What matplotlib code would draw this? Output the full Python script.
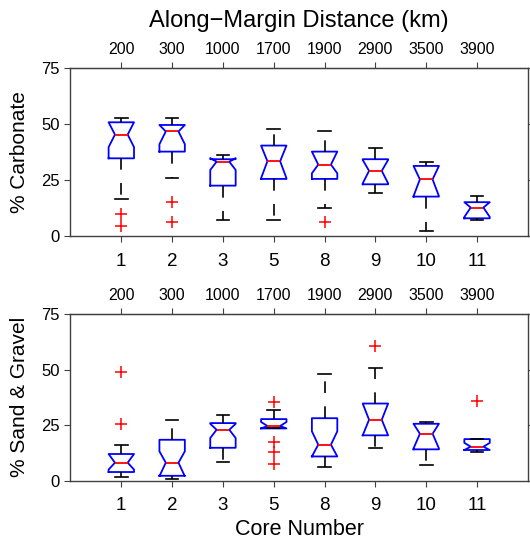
import numpy as np
import matplotlib.pyplot as plt

plt.rcParams['font.family'] = ['Liberation Sans', 'DejaVu Sans']

cores = ['1', '2', '3', '5', '8', '9', '10', '11']
distances = ['200', '300', '1000', '1700', '1900', '2900', '3500', '3900']

# % carbonate
carb_whislo = [16.4, 25.8, 7.3, 7.3, 12.5, 19.2, 2.4, 7.0]
carb_q1 = [34.7, 37.7, 22.5, 25.5, 25.5, 23.1, 17.6, 7.9]
carb_cilo = [39.7, 41.0, 29.5, 25.8, 28.0, 23.5, 17.8, 8.5]
carb_med = [45.3, 46.7, 33.2, 33.4, 31.9, 29.1, 25.3, 12.7]
carb_cihi = [50.8, 49.6, 34.8, 40.4, 37.7, 34.0, 31.3, 15.1]
carb_q3 = [50.8, 49.6, 34.3, 40.4, 37.7, 34.3, 31.3, 15.1]
carb_whishi = [52.6, 52.5, 36.4, 47.9, 47.1, 39.2, 33.2, 18.0]
carb_fliers = [[10.0, 4.6], [15.1, 6.1], [], [], [6.1], [], [], []]

# % sand & gravel
sand_whislo = [1.6, 0.7, 8.4, 23.5, 6.1, 14.8, 6.9, 12.7]
sand_q1 = [3.9, 2.2, 14.8, 23.5, 10.9, 20.4, 14.1, 13.8]
sand_cilo = [5.0, 2.0, 19.2, 23.5, 10.9, 20.4, 14.5, 13.8]
sand_med = [8.1, 8.1, 22.9, 24.6, 16.2, 27.4, 21.1, 15.3]
sand_cihi = [12.0, 13.2, 25.6, 26.4, 22.2, 34.7, 25.6, 17.0]
sand_q3 = [12.0, 18.4, 25.9, 27.7, 28.1, 34.7, 25.6, 18.7]
sand_whishi = [15.9, 27.5, 29.5, 31.7, 48.1, 50.9, 26.2, 18.7]
sand_fliers = [[48.8, 25.6], [], [], [35.3, 17.4, 12.9, 7.3], [], [60.6], [], [35.8]]


def make_stats(whislo, q1, cilo, med, cihi, q3, whishi, fliers):
    stats = []
    for i in range(len(med)):
        stats.append(dict(whislo=whislo[i], q1=q1[i], cilo=cilo[i], med=med[i],
                          cihi=cihi[i], q3=q3[i], whishi=whishi[i],
                          fliers=np.array(fliers[i])))
    return stats


def draw_panel(ax, stats, ylabel):
    pos = np.arange(1, len(stats) + 1)
    ax.bxp(stats, positions=pos, widths=0.5, capwidths=0.25, shownotches=True,
           boxprops=dict(color='blue', linewidth=1.3),
           medianprops=dict(color='red', linewidth=1.3),
           whiskerprops=dict(color='black', linewidth=1.2, linestyle=(0, (7, 8))),
           capprops=dict(color='black', linewidth=1.2),
           flierprops=dict(marker='+', markeredgecolor='red', markersize=8,
                           markeredgewidth=1.1, linestyle='none'))
    ax.set_xlim(0, 9)
    ax.set_ylim(0, 75)
    ax.set_yticks([0, 25, 50, 75])
    ax.set_xticks(pos)
    ax.set_xticklabels(cores, fontsize=13.5)
    ax.set_ylabel(ylabel, fontsize=15, labelpad=9)
    ax.tick_params(axis='y', labelsize=12, direction='out', length=4, right=True,
                   color='0.25')
    ax.tick_params(axis='x', direction='out', length=4, color='0.25', pad=8)
    for s in ax.spines.values():
        s.set_color('0.25')
        s.set_linewidth(1.0)
    top = ax.secondary_xaxis('top')
    top.set_xticks(pos, labels=distances)
    top.tick_params(direction='out', length=4, labelsize=11.5, color='0.25', pad=4)
    top.spines['top'].set_color('0.25')
    return top


fig = plt.figure(figsize=(5.3, 5.45), dpi=100)
ax1 = fig.add_axes([0.133, 0.567, 0.863, 0.308])
ax2 = fig.add_axes([0.133, 0.118, 0.863, 0.306])

top1 = draw_panel(ax1, make_stats(carb_whislo, carb_q1, carb_cilo, carb_med,
                                  carb_cihi, carb_q3, carb_whishi, carb_fliers),
                  '% Carbonate')
draw_panel(ax2, make_stats(sand_whislo, sand_q1, sand_cilo, sand_med,
                           sand_cihi, sand_q3, sand_whishi, sand_fliers),
           '% Sand & Gravel')

top1.set_xlabel('Along\u2212Margin Distance (km)', fontsize=17, labelpad=11)
ax2.set_xlabel('Core Number', fontsize=15.5, labelpad=3)

fig.savefig('out.png', dpi=100)
